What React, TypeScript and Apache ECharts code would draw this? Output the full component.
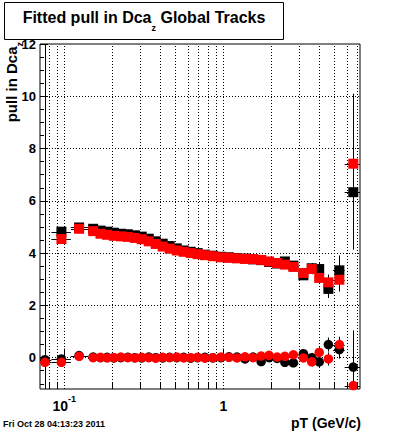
import React, { useEffect, useRef } from 'react';
import * as echarts from 'echarts';

// ---- data ----
const pT = [0.0756, 0.096, 0.124, 0.152, 0.169, 0.186, 0.205, 0.227, 0.251, 0.278, 0.307, 0.34, 0.376, 0.416, 0.46, 0.51, 0.564, 0.624, 0.69, 0.767, 0.86, 0.967, 1.086, 1.22, 1.37, 1.54, 1.73, 1.94, 2.18, 2.44, 2.76, 3.19, 3.6, 4.01, 4.58, 5.37, 6.57];
const binEdges = [0.068, 0.083, 0.11, 0.141, 0.16, 0.178, 0.195, 0.216, 0.239, 0.264, 0.292, 0.323, 0.358, 0.396, 0.438, 0.485, 0.537, 0.594, 0.656, 0.727, 0.812, 0.912, 1.025, 1.15, 1.295, 1.455, 1.635, 1.835, 2.06, 2.31, 2.6, 2.97, 3.4, 3.8, 4.3, 4.9, 5.8, 7.4];

const squareBlack = [null, 4.82, 4.98, 4.93, 4.86, 4.82, 4.78, 4.74, 4.72, 4.68, 4.63, 4.55, 4.45, 4.36, 4.27, 4.18, 4.1, 4.05, 4.0, 3.94, 3.9, 3.86, 3.84, 3.81, 3.79, 3.76, 3.73, 3.66, 3.6, 3.68, 3.52, 3.15, 3.42, 3.39, 2.63, 3.34, 6.33];
const squareBlackErr = [0, 0.06, 0.06, 0.06, 0.06, 0.06, 0.06, 0.06, 0.06, 0.06, 0.06, 0.06, 0.06, 0.06, 0.06, 0.06, 0.06, 0.06, 0.06, 0.06, 0.06, 0.06, 0.06, 0.06, 0.06, 0.06, 0.06, 0.06, 0.06, 0.08, 0.1, 0.15, 0.2, 0.25, 0.35, 0.57, 2.2];
const squareRed = [null, 4.54, 4.93, 4.84, 4.74, 4.7, 4.66, 4.64, 4.62, 4.58, 4.53, 4.45, 4.35, 4.25, 4.17, 4.1, 4.05, 4.0, 3.96, 3.92, 3.88, 3.84, 3.82, 3.8, 3.78, 3.77, 3.74, 3.68, 3.62, 3.56, 3.47, 3.24, 3.39, 3.05, 2.88, 2.98, 7.42];
const squareRedErr = [0, 0.05, 0.05, 0.05, 0.05, 0.05, 0.05, 0.05, 0.05, 0.05, 0.05, 0.05, 0.05, 0.05, 0.05, 0.05, 0.05, 0.05, 0.05, 0.05, 0.05, 0.05, 0.05, 0.05, 0.05, 0.05, 0.05, 0.05, 0.05, 0.08, 0.1, 0.15, 0.2, 0.22, 0.3, 0.45, 2.68];

const circleBlack = [-0.08, -0.05, 0.08, 0.02, 0.0, 0.01, -0.01, 0.0, 0.01, 0.0, -0.01, 0.02, 0.0, -0.01, 0.01, 0.0, 0.01, -0.02, 0.0, 0.01, -0.01, 0.0, 0.03, 0.02, -0.05, 0.02, -0.15, 0.0, -0.03, -0.18, -0.2, 0.15, 0.0, -0.16, 0.5, 0.31, -0.36];
const circleBlackErr = [20, 0.05, 0.05, 0.05, 0.05, 0.05, 0.05, 0.05, 0.05, 0.05, 0.05, 0.05, 0.05, 0.05, 0.05, 0.05, 0.05, 0.05, 0.05, 0.05, 0.05, 0.05, 0.05, 0.05, 0.05, 0.05, 0.05, 0.05, 0.05, 0.1, 0.12, 0.15, 0.18, 0.2, 0.27, 0.35, 1.4];
const circleRed = [-0.18, -0.18, 0.05, 0.0, 0.01, -0.01, 0.0, 0.02, 0.0, -0.01, 0.01, 0.0, -0.02, 0.01, 0.0, 0.02, -0.01, 0.0, 0.01, -0.02, 0.0, 0.02, 0.01, -0.01, 0.03, 0.0, 0.06, 0.09, 0.02, 0.05, 0.11, -0.01, -0.16, 0.2, -0.05, 0.5, -1.07];
const circleRedErr = [0.1, 0.05, 0.05, 0.05, 0.05, 0.05, 0.05, 0.05, 0.05, 0.05, 0.05, 0.05, 0.05, 0.05, 0.05, 0.05, 0.05, 0.05, 0.05, 0.05, 0.05, 0.05, 0.05, 0.05, 0.05, 0.05, 0.05, 0.05, 0.05, 0.1, 0.12, 0.15, 0.18, 0.2, 0.25, 0.3, 1.5];

// axis ticks / grid values
const yMajorTicks = [0, 2, 4, 6, 8, 10, 12];
const yMinorTicks = [-1, -0.5, 0.5, 1, 1.5, 2.5, 3, 3.5, 4.5, 5, 5.5, 6.5, 7, 7.5, 8.5, 9, 9.5, 10.5, 11, 11.5];
const yGridLines = [0, 2, 4, 6, 8, 10];
const xMinorTicks = [0.08, 0.09, 0.2, 0.3, 0.4, 0.5, 0.6, 0.7, 0.8, 0.9, 2, 3, 4, 5, 6, 7];
const xGridLines = [0.08, 0.09, 0.1, 0.2, 0.3, 0.4, 0.5, 0.6, 0.7, 0.8, 0.9, 1, 2, 3, 4, 5, 6, 7];

const X_MIN = 0.0704;
const X_MAX = 7.24;
const Y_MIN = -1.2;
const Y_MAX = 12;

const FONT = '"Liberation Sans", Arial, Helvetica, sans-serif';

function points(vals: (number | null)[]) {
  const out: number[][] = [];
  vals.forEach((v, i) => {
    if (v == null) return;
    out.push([pT[i], v]);
  });
  return out;
}

function errPoints(vals: (number | null)[], errs: number[]) {
  const out: number[][] = [];
  vals.forEach((v, i) => {
    if (v == null) return;
    out.push([pT[i], v, binEdges[i], binEdges[i + 1], errs[i]]);
  });
  return out;
}

function errorSeries(data: number[][]) {
  return {
    type: 'custom',
    silent: true,
    data,
    encode: { x: 0, y: 1 },
    renderItem: (params: any, api: any) => {
      const cs = params.coordSys;
      const x = api.value(0);
      const y = api.value(1);
      const xl = api.value(2);
      const xh = api.value(3);
      const e = api.value(4);
      const clampX = (v: number) => Math.max(cs.x, Math.min(cs.x + cs.width, v));
      const clampY = (v: number) => Math.max(cs.y, Math.min(cs.y + cs.height, v));
      const c = api.coord([x, y]);
      const l = api.coord([xl, y]);
      const h = api.coord([xh, y]);
      const t = api.coord([x, y + e]);
      const b = api.coord([x, y - e]);
      const cx = Math.round(c[0]) + 0.5;
      const cy = Math.round(c[1]) + 0.5;
      if (cy < cs.y || cy > cs.y + cs.height) return null;
      const style = { stroke: '#000', lineWidth: 1 };
      return {
        type: 'group',
        children: [
          { type: 'line', shape: { x1: clampX(l[0]), y1: cy, x2: clampX(h[0]), y2: cy }, style },
          { type: 'line', shape: { x1: cx, y1: clampY(t[1]), x2: cx, y2: clampY(b[1]) }, style },
        ],
      };
    },
  };
}

function markerSeries(data: number[][], symbol: string, color: string, size: number) {
  return {
    type: 'scatter',
    silent: true,
    symbol,
    symbolSize: size,
    itemStyle: { color, opacity: 1 },
    emphasis: { disabled: true },
    data,
  };
}

export default function App() {
  const ref = useRef<HTMLDivElement>(null);
  useEffect(() => {
    if (!ref.current) return;
    const chart = echarts.init(ref.current, null, { renderer: 'svg' });
    const option: any = {
      animation: false,
      backgroundColor: '#fff',
      grid: {
        left: 40,
        top: 44,
        width: 320,
        height: 345,
        show: true,
        borderColor: '#000',
        borderWidth: 1,
        backgroundColor: 'transparent',
      },
      xAxis: {
        type: 'log',
        logBase: 10,
        min: X_MIN,
        max: X_MAX,
        axisLine: { show: false },
        axisTick: { show: true, inside: true, length: 9, lineStyle: { color: '#000', width: 1 } },
        axisLabel: {
          show: true,
          margin: 7,
          showMinLabel: false,
          showMaxLabel: false,
          color: '#000',
          formatter: (v: number) => {
            const l = Math.log10(v);
            if (Math.abs(l + 1) < 1e-6) return '{b|10}{s|-1}';
            if (Math.abs(l) < 1e-6) return '{b|1}';
            return '';
          },
          rich: {
            b: { fontFamily: FONT, fontWeight: 'bold', fontSize: 14, lineHeight: 20, color: '#000' },
            s: { fontFamily: FONT, fontWeight: 'bold', fontSize: 9, lineHeight: 20, padding: [0, 0, 15, 0], color: '#000' },
          },
        },
        splitLine: { show: false },
      },
      yAxis: [
        {
          type: 'value',
          min: Y_MIN,
          max: Y_MAX,
          axisLine: { show: false },
          axisTick: { show: true, inside: true, length: 8, customValues: yMajorTicks, lineStyle: { color: '#000' } },
          axisLabel: {
            show: true,
            customValues: yMajorTicks,
            margin: 4,
            color: '#000',
            fontFamily: FONT,
            fontWeight: 'bold',
            fontSize: 13,
          },
          splitLine: { show: false },
        },
        {
          type: 'value',
          min: Y_MIN,
          max: Y_MAX,
          position: 'left',
          axisLine: { show: false },
          axisTick: { show: true, inside: true, length: 4, customValues: yMinorTicks, lineStyle: { color: '#000' } },
          axisLabel: { show: false },
          splitLine: { show: false },
        },
      ],
      series: [
        {
          type: 'scatter',
          data: [],
          silent: true,
          markLine: {
            silent: true,
            z: 1,
            symbol: ['none', 'none'],
            label: { show: false },
            emphasis: { disabled: true },
            lineStyle: { color: '#000', type: [1, 2], width: 1 },
            data: [
              ...xGridLines.map((v) => ({ xAxis: v })),
              ...yGridLines.map((v) => ({ yAxis: v })),
            ],
          },
        },
        {
          type: 'scatter',
          data: [],
          silent: true,
          markLine: {
            silent: true,
            z: 3,
            symbol: ['none', 'none'],
            label: { show: false },
            emphasis: { disabled: true },
            lineStyle: { color: '#000', type: 'solid', width: 1 },
            data: xMinorTicks.map((v) => [{ coord: [v, Y_MIN] }, { coord: [v, Y_MIN + 0.23] }]),
          },
        },
        errorSeries(errPoints(squareBlack, squareBlackErr)),
        markerSeries(points(squareBlack), 'rect', '#000000', 10),
        errorSeries(errPoints(circleBlack, circleBlackErr)),
        markerSeries(points(circleBlack), 'circle', '#000000', 9.5),
        errorSeries(errPoints(squareRed, squareRedErr)),
        markerSeries(points(squareRed), 'rect', '#ff0000', 10),
        errorSeries(errPoints(circleRed, circleRedErr)),
        markerSeries(points(circleRed), 'circle', '#ff0000', 9.5),
      ],
      graphic: [
        {
          type: 'rect',
          shape: { x: 4.5, y: 2.5, width: 279, height: 37 },
          style: { fill: '#fff', stroke: '#000', lineWidth: 1 },
          z: 10,
        },
        {
          type: 'text',
          x: 144,
          y: 7,
          z: 11,
          style: {
            text: '{m|Fitted pull in Dca}{s|z}{m| Global Tracks}',
            align: 'center',
            verticalAlign: 'top',
            rich: {
              m: { fontFamily: FONT, fontWeight: 'bold', fontSize: 16, lineHeight: 20, fill: '#000' },
              s: { fontFamily: FONT, fontWeight: 'bold', fontSize: 9, lineHeight: 20, padding: [22, 0, 0, 0], fill: '#000' },
            },
          },
        },
        {
          type: 'text',
          x: 2,
          y: 42,
          rotation: Math.PI / 2,
          z: 11,
          style: {
            text: '{m|pull in Dca}{s|z}',
            align: 'right',
            verticalAlign: 'top',
            rich: {
              m: { fontFamily: FONT, fontWeight: 'bold', fontSize: 15, lineHeight: 18, fill: '#000' },
              s: { fontFamily: FONT, fontWeight: 'bold', fontSize: 9, lineHeight: 18, padding: [18, 0, 0, 0], fill: '#000' },
            },
          },
        },
        {
          type: 'text',
          x: 361,
          y: 423,
          z: 11,
          style: {
            text: 'pT (GeV/c)',
            align: 'right',
            verticalAlign: 'middle',
            fontFamily: FONT,
            fontWeight: 'bold',
            fontSize: 14,
            fill: '#000',
          },
        },
        {
          type: 'text',
          x: 3,
          y: 424,
          z: 11,
          style: {
            text: 'Fri Oct 28 04:13:23 2011',
            align: 'left',
            verticalAlign: 'middle',
            fontFamily: FONT,
            fontWeight: 'bold',
            fontSize: 9,
            fill: '#000',
          },
        },
      ],
    };
    chart.setOption(option);
    return () => chart.dispose();
  }, []);
  return (
    <div
      ref={ref}
      style={{ position: 'fixed', left: 0, top: 0, width: 400, height: 433, background: '#fff' }}
    />
  );
}
